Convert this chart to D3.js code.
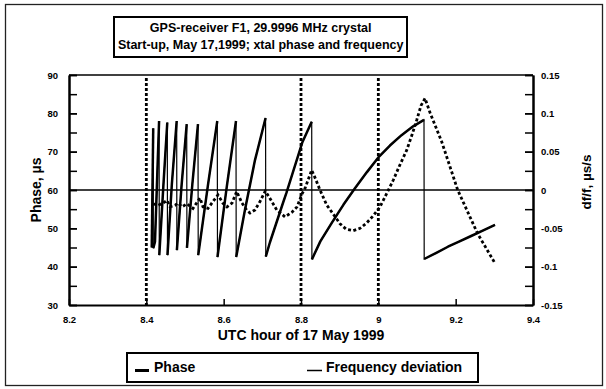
<!DOCTYPE html>
<html><head><meta charset="utf-8">
<script src="https://cdn.jsdelivr.net/npm/d3@7"></script>
<style>
html,body{margin:0;padding:0;background:#fff;}
text{font-family:"Liberation Sans",Arial,sans-serif;font-weight:bold;fill:#000;}
</style></head>
<body><svg id="c" width="606" height="389"></svg>
<script>
// ---- data ----
const titleLines = ["GPS-receiver F1, 29.9996 MHz crystal", "Start-up, May 17,1999; xtal phase and frequency"];
const xTicks = [8.2, 8.4, 8.6, 8.8, 9, 9.2, 9.4];
const yLeftTicks = [30, 40, 50, 60, 70, 80, 90];
const yRightTicks = [-0.15, -0.1, -0.05, 0, 0.05, 0.1, 0.15];
const markerHours = [8.4, 8.8, 9.0];
const seriesNames = ["Phase", "Frequency deviation"];

const phaseHour = [8.4140, 8.4178, 8.4180, 8.4224, 8.4330, 8.4335, 8.4440, 8.4542, 8.4547, 8.4660, 8.4785,
  8.4790, 8.4910, 8.5044, 8.5050, 8.5190, 8.5336, 8.5342, 8.5590, 8.5835, 8.5840, 8.6080, 8.6319,
  8.6324, 8.6550, 8.6810, 8.7084, 8.7089, 8.7195, 8.7540, 8.7625, 8.8030, 8.8277,
  8.8282, 8.8500, 8.8800, 8.9100, 8.9400, 8.9700, 9.0000, 9.0300, 9.0600, 9.0900, 9.1181,
  9.1186, 9.1500, 9.1800, 9.2100, 9.2400, 9.2700, 9.3017];
const phaseUs = [45.0, 76.1, 44.8, 46.5, 78.0, 43.0, 61.0, 77.6, 43.0, 61.5, 78.0,
  44.3, 61.0, 77.2, 44.9, 61.5, 77.2, 43.0, 61.0, 78.0, 42.5, 60.8, 78.0,
  42.5, 54.8, 67.8, 78.8, 42.6, 46.3, 56.8, 59.3, 72.3, 77.8,
  41.9, 46.6, 51.5, 56.2, 60.5, 64.6, 68.5, 71.6, 74.3, 76.6, 78.3,
  42.0, 43.6, 45.2, 46.6, 48.0, 49.4, 50.9];

const freqHour = [8.4180, 8.4302, 8.4431, 8.4534, 8.4612, 8.4741, 8.4819, 8.4922, 8.5052, 8.5207,
  8.5388, 8.5466, 8.5595, 8.5724, 8.5853, 8.5983, 8.6086, 8.6216, 8.6337, 8.6474, 8.6603, 8.6681,
  8.6810, 8.6940, 8.7077, 8.7198, 8.7372, 8.7586, 8.7767, 8.7897, 8.8026, 8.8103, 8.8277, 8.8388,
  8.8491, 8.8665, 8.8828, 8.9009, 8.9164, 8.9353, 8.9526, 8.9699, 8.9862, 9.0043, 9.0198, 9.0387,
  9.0560, 9.0734, 9.0871, 9.0992, 9.1103, 9.1207, 9.1336, 9.1639, 9.2053, 9.2565, 9.2999];
const freqDev = [-0.018, -0.020, -0.017, -0.0137, -0.0218, -0.020, -0.017, -0.022, -0.018, -0.024,
  -0.0104, -0.022, -0.024, -0.015, -0.0065, -0.0174, -0.022, -0.017, -0.002, -0.017, -0.027, -0.030,
  -0.026, -0.015, -0.0013, -0.011, -0.026, -0.035, -0.029, -0.022, -0.005, 0.002, 0.026, 0.013,
  0.000, -0.0196, -0.031, -0.044, -0.051, -0.053, -0.050, -0.043, -0.034, -0.022, -0.0065, 0.013,
  0.033, 0.052, 0.072, 0.091, 0.110, 0.1196, 0.101, 0.063, 0.0, -0.0567, -0.094];

// ---- layout ----
const svg = d3.select("#c");
const L = 69, R = 533, T = 75, B = 305;
const x = d3.scaleLinear().domain([8.2, 9.4]).range([L, R]);
const yL = d3.scaleLinear().domain([30, 90]).range([B, T]);
const yR = d3.scaleLinear().domain([-0.15, 0.15]).range([B, T]);

// outer frame
svg.append("rect").attr("x", 5.5).attr("y", 4.5).attr("width", 597).attr("height", 381)
  .attr("fill", "none").attr("stroke", "#222").attr("stroke-width", 1.3);

// title box
svg.append("rect").attr("x", 114).attr("y", 17).attr("width", 293).attr("height", 40)
  .attr("fill", "none").attr("stroke", "#000").attr("stroke-width", 2);
svg.selectAll(".title").data(titleLines).enter().append("text")
  .attr("x", 260.7).attr("y", (d, i) => 31.5 + i * 17).attr("text-anchor", "middle")
  .style("font-size", "12.5px").text(d => d);

// zero line
svg.append("line").attr("x1", L).attr("x2", R).attr("y1", yL(60)).attr("y2", yL(60))
  .attr("stroke", "#000").attr("stroke-width", 1.5);

// marker dashed lines
svg.selectAll(".mk").data(markerHours).enter().append("line")
  .attr("x1", d => x(d)).attr("x2", d => x(d)).attr("y1", 78).attr("y2", B)
  .attr("stroke", "#000").attr("stroke-width", 2.8).attr("stroke-dasharray", "3,2");

// top frame line
svg.append("line").attr("x1", L).attr("x2", R).attr("y1", T).attr("y2", T)
  .attr("stroke", "#000").attr("stroke-width", 1.5);

// axes
const fmtR = d => d === 0 ? "0" : String(+d.toFixed(2));
function styleAxis(g, fs) {
  g.select(".domain").attr("stroke", "#000").attr("stroke-width", 2);
  g.selectAll(".tick line").attr("stroke", "#000").attr("stroke-width", 1.5);
  g.selectAll("text").style("font-size", fs).style("font-family", '"Liberation Sans",Arial,sans-serif').style("font-weight", "bold");
}
const minorLeft = d3.range(30, 91, 5);
svg.append("g").attr("transform", `translate(${L},0)`)
  .call(d3.axisLeft(yL).tickValues(minorLeft).tickSizeInner(-8).tickSizeOuter(0).tickFormat(""))
  .call(g => styleAxis(g, "9.5px"));
svg.append("g").attr("transform", `translate(${L},0)`)
  .call(d3.axisLeft(yL).tickValues(yLeftTicks).tickSizeInner(-8).tickSizeOuter(0).tickPadding(11).tickFormat(d3.format("d")))
  .call(g => styleAxis(g, "9.5px"));
const minorRight = d3.range(-6, 7).map(i => i * 0.025);
svg.append("g").attr("transform", `translate(${R},0)`)
  .call(d3.axisRight(yR).tickValues(minorRight).tickSizeInner(-8).tickSizeOuter(0).tickFormat(""))
  .call(g => styleAxis(g, "9.5px"));
svg.append("g").attr("transform", `translate(${R},0)`)
  .call(d3.axisRight(yR).tickValues(yRightTicks).tickSizeInner(-8).tickSizeOuter(0).tickPadding(8).tickFormat(fmtR))
  .call(g => styleAxis(g, "9.5px"));
svg.append("g").attr("transform", `translate(0,${B})`)
  .call(d3.axisBottom(x).tickValues(xTicks).tickSizeInner(-6).tickSizeOuter(0).tickPadding(11).tickFormat(d => String(+d.toFixed(1))))
  .call(g => styleAxis(g, "9.5px"));

// axis titles
svg.append("text").attr("x", 301).attr("y", 340).attr("text-anchor", "middle")
  .style("font-size", "14px").text("UTC hour of 17 May 1999");
svg.append("text").attr("transform", "translate(41,190) rotate(-90)").attr("text-anchor", "middle")
  .style("font-size", "14px").text("Phase, µs");
svg.append("text").attr("transform", "translate(591,182) rotate(-90)").attr("text-anchor", "middle")
  .style("font-size", "13.5px").text("df/f, µs/s");

// phase series
const phase = phaseHour.map((h, i) => ({h, v: phaseUs[i]}));
const lineP = d3.line().x(d => x(d.h)).y(d => yL(d.v));
svg.append("path").attr("d", lineP(phase)).attr("fill", "none").attr("stroke", "#000").attr("stroke-width", 1.2);
// thick ramps: group consecutive rising points
const ramps = [];
let cur = [phase[0]];
for (let i = 1; i < phase.length; i++) {
  if (phase[i].v >= phase[i - 1].v) cur.push(phase[i]);
  else { if (cur.length > 1) ramps.push(cur); cur = [phase[i]]; }
}
if (cur.length > 1) ramps.push(cur);
svg.selectAll(".ramp").data(ramps).enter().append("path")
  .attr("d", lineP).attr("fill", "none").attr("stroke", "#000").attr("stroke-width", 2.5)
  .attr("stroke-linejoin", "round");

// frequency series
const freq = freqHour.map((h, i) => ({h, v: freqDev[i]}));
const lineF = d3.line().x(d => x(d.h)).y(d => yR(d.v));
svg.append("path").attr("d", lineF(freq)).attr("fill", "none").attr("stroke", "#000")
  .attr("stroke-width", 2.8).attr("stroke-dasharray", "3,2.4");

// legend
svg.append("rect").attr("x", 127).attr("y", 353).attr("width", 351).attr("height", 29)
  .attr("fill", "none").attr("stroke", "#000").attr("stroke-width", 2);
const lg = [{x1: 135, x2: 149, w: 3, tx: 154}, {x1: 307, x2: 322, w: 1.5, tx: 326}];
lg.forEach((d, i) => {
  svg.append("line").attr("x1", d.x1).attr("x2", d.x2).attr("y1", 370.5).attr("y2", 370.5)
    .attr("stroke", "#000").attr("stroke-width", d.w);
  svg.append("text").attr("x", d.tx).attr("y", 372).style("font-size", "14px").text(seriesNames[i]);
});
</script></body></html>
